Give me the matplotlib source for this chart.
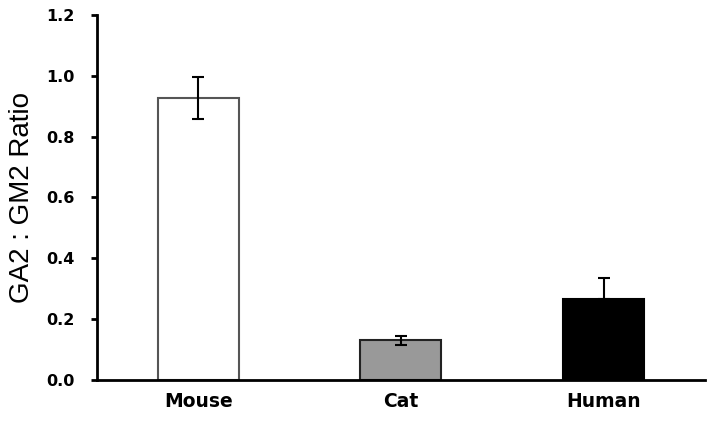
import matplotlib.pyplot as plt

# Data
species = ['Mouse', 'Cat', 'Human']
ratios = [0.927, 0.13, 0.265]
err_low = [0.07, 0.015, 0.0]
err_high = [0.07, 0.015, 0.07]
fills = ['white', '#999999', 'black']
edges = ['#555555', '#222222', 'black']

plt.rcParams['font.family'] = ['Liberation Sans', 'DejaVu Sans']

fig = plt.figure(figsize=(7.12, 4.25), dpi=100)
ax = fig.add_axes([0.136, 0.106, 0.854, 0.859])

x = range(len(species))
ax.bar(x, ratios, width=0.4, color=fills, edgecolor=edges, linewidth=1.5, zorder=2)
ax.errorbar(x, ratios, yerr=[err_low, err_high], fmt='none', ecolor='black',
            elinewidth=1.5, capsize=4, capthick=1.5, zorder=3)

ax.set_xlim(-0.5, 2.5)
ax.set_ylim(0, 1.2)
ax.set_yticks([0.0, 0.2, 0.4, 0.6, 0.8, 1.0, 1.2])
ax.set_yticklabels(['0.0', '0.2', '0.4', '0.6', '0.8', '1.0', '1.2'],
                   fontsize=11.5, fontweight='bold', family='DejaVu Sans')
ax.set_xticks(list(x))
ax.set_xticklabels(species, fontsize=13.5, fontweight='bold', family='DejaVu Sans')
ax.tick_params(axis='x', length=0, pad=9)
ax.tick_params(axis='y', length=4, width=2, pad=12)
ax.set_ylabel('GA2 : GM2 Ratio', fontsize=20, family='Liberation Sans', labelpad=8)

for side in ['top', 'right']:
    ax.spines[side].set_visible(False)
for side in ['left', 'bottom']:
    ax.spines[side].set_linewidth(2)

fig.savefig('out.png', dpi=100)
